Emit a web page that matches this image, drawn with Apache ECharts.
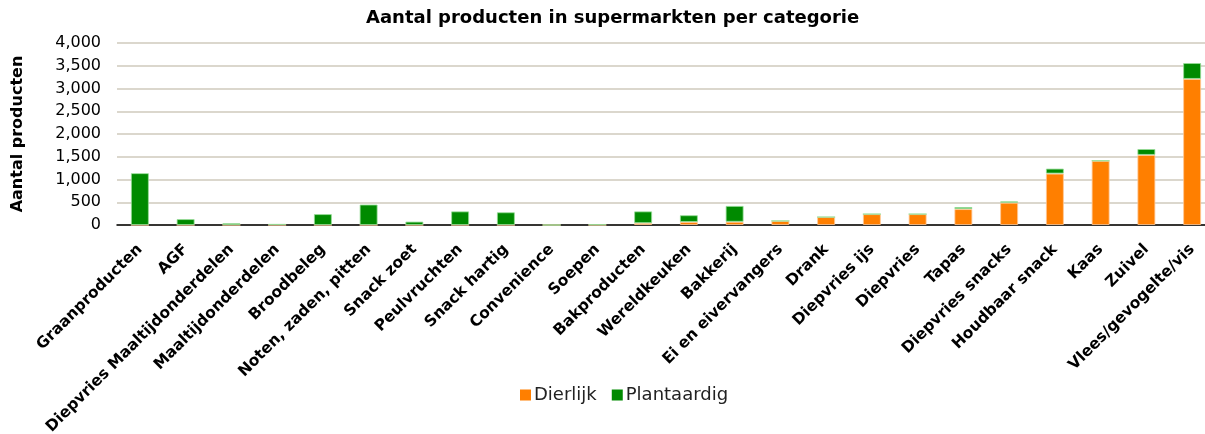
<!DOCTYPE html>
<html>
<head>
<meta charset="utf-8">
<script src="https://cdn.jsdelivr.net/npm/echarts@6/dist/echarts.min.js"></script>
<style>
  html, body { margin: 0; padding: 0; background: #fff; }
  #chart { width: 1205px; height: 434px; }
</style>
</head>
<body>
<div id="chart"></div>
<script>
const categories = [
  "Graanproducten", "AGF", "Diepvries Maaltijdonderdelen", "Maaltijdonderdelen",
  "Broodbeleg", "Noten, zaden, pitten", "Snack zoet", "Peulvruchten", "Snack hartig",
  "Convenience", "Soepen", "Bakproducten", "Wereldkeuken", "Bakkerij",
  "Ei en eivervangers", "Drank", "Diepvries ijs", "Diepvries", "Tapas",
  "Diepvries snacks", "Houdbaar snack", "Kaas", "Zuivel", "Vlees/gevogelte/vis"
];
const dierlijk = [0, 0, 0, 0, 0, 0, 0, 0, 0, 0, 0, 40, 65, 70, 90, 175, 240, 240, 350, 490, 1130, 1410, 1540, 3210];
const plantaardig = [1140, 130, 40, 25, 240, 450, 75, 300, 280, 0, 15, 260, 150, 350, 0, 0, 0, 0, 45, 30, 110, 5, 130, 350];

const chart = echarts.init(document.getElementById("chart"));
const font = "DejaVu Sans, Verdana, sans-serif";
chart.setOption({
  animation: false,
  title: {
    text: "Aantal producten in supermarkten per categorie",
    left: 361,
    top: 4,
    textStyle: { fontFamily: font, fontSize: 18, fontWeight: "bold", color: "#000" }
  },
  legend: {
    data: ["Dierlijk", "Plantaardig"],
    left: 515,
    top: 381,
    icon: "rect",
    itemWidth: 11,
    itemHeight: 11,
    itemGap: 15,
    itemStyle: { borderWidth: 0 },
    textStyle: { fontFamily: font, fontSize: 18, color: "#222", padding: [0, 0, 0, -2] }
  },
  grid: { left: 117, right: -10, top: 43, bottom: 209, outerBoundsMode: "none" },
  xAxis: {
    type: "category",
    data: categories,
    axisLine: { lineStyle: { color: "#000", width: 1.5 } },
    axisTick: { show: false },
    axisLabel: {
      interval: 0,
      rotate: 45,
      margin: 22,
      fontFamily: font,
      fontSize: 15.5,
      fontWeight: "bold",
      color: "#000"
    }
  },
  yAxis: {
    type: "value",
    min: 0,
    max: 4000,
    interval: 500,
    name: "Aantal producten",
    nameLocation: "middle",
    nameGap: 91,
    nameTextStyle: { fontFamily: font, fontSize: 16, fontWeight: "bold", color: "#000" },
    axisLabel: {
      fontFamily: font,
      fontSize: 16,
      color: "#000",
      margin: 16,
      formatter: v => v.toLocaleString("en-US")
    },
    splitLine: { lineStyle: { color: "#cfcabd", width: 1.5 } }
  },
  series: [
    {
      name: "Dierlijk",
      type: "bar",
      stack: "a",
      data: dierlijk,
      barWidth: 18,
      itemStyle: { color: "#ff7f00", borderColor: "rgba(255,200,150,0.8)", borderWidth: 1 }
    },
    {
      name: "Plantaardig",
      type: "bar",
      stack: "a",
      data: plantaardig,
      barWidth: 18,
      itemStyle: { color: "#008a00", borderColor: "rgba(150,220,150,0.8)", borderWidth: 1 }
    }
  ]
});
</script>
</body>
</html>
